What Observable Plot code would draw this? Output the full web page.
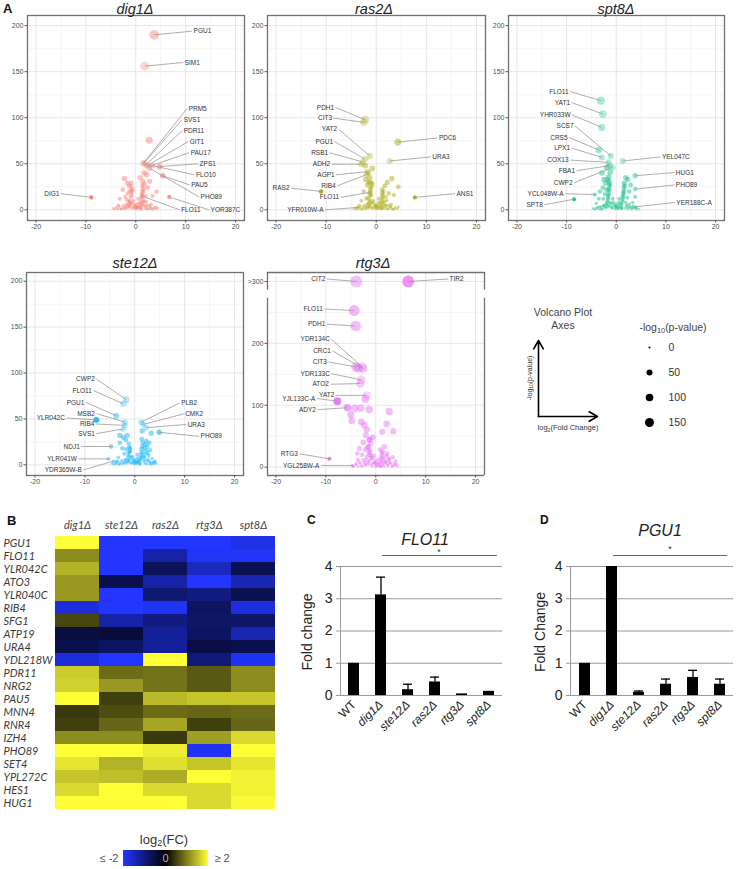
<!DOCTYPE html>
<html><head><meta charset="utf-8">
<script src="https://cdn.jsdelivr.net/npm/d3@7"></script>
<script src="https://cdn.jsdelivr.net/npm/@observablehq/plot@0.6"></script>
<style>
body{margin:0;background:#fff;}
#fig{position:relative;width:736px;height:869px;overflow:hidden;font-family:"Liberation Sans",Arial,sans-serif;color:#222;background:#fff;}
.t{position:absolute;white-space:nowrap;transform:translate(-50%,-50%);line-height:1;}
.l{position:absolute;white-space:nowrap;line-height:1;font-weight:bold;font-size:13px;color:#111;}
sub{font-size:0.7em;vertical-align:-0.25em;line-height:0;}
</style></head><body><div id="fig"></div>
<script>
// ---------------- DATA: volcano plots ----------------
const dig1Cloud = [[-4.2,0.5],[-3.6,1],[-3.1,0.8],[-2.7,2],[-2.3,1],[-2,3.5],[-1.7,1.5],[-1.5,6],[-1.3,3],[-1.2,10],[-1,14],[-0.9,19],[-0.8,24],[-0.9,29],[-1.1,7],[-0.6,2],[-0.4,5],[-0.2,1],[0,2.5],[0.2,1],[0.4,4],[0.6,2],[0.8,6],[1,3],[1,9],[1.1,13],[1.2,17],[1.3,21],[1.3,26],[1.4,31],[1.6,4],[1.9,1.5],[2.2,3],[2.6,1],[3,2],[3.4,1],[3.9,0.8],[4.4,1.5],[-2.1,14],[-2.6,22],[-2.3,34],[-1.7,29],[-3.2,12],[-1.6,18],[2.1,9],[2.4,24],[2.2,38],[2.8,31],[3.4,15],[4.2,20],[1.7,40],[0.5,12],[-0.5,10],[0.9,35],[3.1,6],[-3.5,5],[2.7,75.5],
 [-3.9,2.5],[-3.3,3.5],[-2.9,0.5],[-2.5,4.5],[-2.2,2],[-1.9,6],[-1.6,3.5],[-1.4,9],[-1.2,4.5],[-1,6],[-0.9,2],[-0.7,8],[-0.3,3],[-0.1,6],[0.1,4],[0.3,2],[0.5,7],[0.7,3.5],[0.9,1],[1.1,5],[1.3,8],[1.5,11],[1.2,1.5],[1.4,6],[1.7,9],[2,5],[2.3,1],[2.5,5],[2.9,3.5],[3.2,0.5],[3.7,2.5],[4.1,3],[-4.5,1.5],[-0.8,16],[-1.1,21],[1.4,15],[1.5,19],[1.6,23],[1.7,28],[-0.6,21],[-1.3,26],[1,0.5],[-1.8,11],[2,15]];
const dig1Genes = [
 {g:"PGU1",x:3.7,y:190,lx:11.3,ly:194},{g:"SIM1",x:1.8,y:156,lx:9.5,ly:160},
 {g:"PRM5",x:1.6,y:51,lx:10.3,ly:110},{g:"SVS1",x:1.5,y:50,lx:9.3,ly:98},
 {g:"PDR11",x:2.1,y:49,lx:9.3,ly:86},{g:"GIT1",x:2.3,y:48,lx:10.5,ly:74},
 {g:"PAU17",x:2.6,y:47,lx:10.7,ly:62},{g:"ZPS1",x:4.8,y:47,lx:12.5,ly:50},
 {g:"FLO10",x:3.3,y:48,lx:11.8,ly:38},{g:"PAU5",x:5.4,y:37,lx:10.8,ly:27},
 {g:"PHO89",x:2.8,y:45,lx:12.7,ly:14},{g:"FLO11",x:1.2,y:15,lx:8.8,ly:0},
 {g:"YOR387C",x:6.7,y:14,lx:14.7,ly:0},{g:"DIG1",x:-8.9,y:13.5,lx:-15,ly:17.5}];

const ras2Cloud = [[-4,0.5],[-3.5,1.5],[-3,0.8],[-2.6,2.5],[-2.2,1],[-1.9,4],[-1.6,1.5],[-1.5,7],[-1.3,3],[-1.3,11],[-1.2,15],[-1.1,20],[-1,25],[-1.1,30],[-1.3,35],[-0.7,2],[-0.4,5],[-0.2,1],[0,3],[0.2,1],[0.4,5],[0.6,2],[0.8,7],[1,3],[1,10],[1.1,14],[1.2,18],[1.2,22],[1.4,3],[1.7,1.5],[2,4],[2.4,1],[2.8,2.5],[3.2,1],[3.6,0.8],[4.2,1.2],[-2,12],[-2.5,20],[-1.8,27],[-1.6,40],[-2.1,33],[-3,10],[2.1,10],[2.5,18],[2.2,30],[3.1,34],[3.5,16],[4.4,25],[1.7,26],[0.5,12],[-0.6,10],[-0.8,45],[-2.2,48],[3,6],[-3.4,5],
 [-3.8,2.5],[-3.2,3.5],[-2.8,0.5],[-2.4,4.5],[-2,2],[-1.8,6],[-1.5,3.5],[-1.4,9],[-1.2,5],[-1,7],[-0.9,2],[-0.7,8],[-0.3,3],[-0.1,6],[0.1,4],[0.3,2],[0.5,8],[0.7,3.5],[0.9,1],[1.1,5],[1.2,8],[1.3,12],[1.3,1.5],[1.5,6],[1.6,9],[1.9,5],[2.2,1],[2.5,5],[2.9,3.5],[3.3,0.5],[3.8,2.5],[4.4,3],[-4.4,1.5],[-1,16],[-1.2,23],[1.3,16],[1.4,20],[-0.8,28],[-1.5,30],[1,0.5],[-1.7,13],[1.9,14],[-1.4,18]];
const ras2Genes = [
 {g:"PDH1",x:-2.2,y:98,lx:-8.1,ly:111},{g:"CIT3",x:-2.5,y:95,lx:-8.5,ly:99.5},
 {g:"YAT2",x:-1.3,y:58.5,lx:-7.5,ly:87.5},{g:"PGU1",x:-2.2,y:55,lx:-8.3,ly:74},
 {g:"RSB1",x:-2.7,y:52,lx:-9.3,ly:62},{g:"ADH2",x:-3,y:49.5,lx:-8.9,ly:49.5},
 {g:"AGP1",x:-1.8,y:41.5,lx:-8,ly:38},{g:"RIB4",x:-2,y:38,lx:-7.8,ly:26},
 {g:"FLO11",x:-1.3,y:19,lx:-7.1,ly:13.5},{g:"YFR010W-A",x:-3.7,y:2.5,lx:-10.2,ly:0},
 {g:"RAS2",x:-11,y:20,lx:-17,ly:23.5},{g:"PDC6",x:4.3,y:73.5,lx:12.2,ly:78},
 {g:"URA3",x:2.7,y:53,lx:10.9,ly:57.5},{g:"ANS1",x:7.7,y:13.5,lx:15.7,ly:17.5}];

const spt8Cloud = [[-4.3,0.5],[-3.8,1.5],[-3.3,1],[-3,3],[-2.7,1],[-2.4,5],[-2.1,2],[-1.9,8],[-1.7,3],[-1.6,12],[-1.5,16],[-1.4,21],[-1.3,26],[-1.4,31],[-1.5,36],[-1.2,41],[-2.3,17],[-2.7,24],[-2.5,33],[-3.3,20],[-3.5,12],[-2.9,40],[-0.8,2],[-0.5,5],[-0.2,1],[0,3],[0.3,1],[0.5,5],[0.7,2],[0.9,7],[1.1,3],[1.2,11],[1.3,15],[1.4,19],[1.5,24],[1.6,29],[1.8,2],[2.1,5],[2.4,1],[2.7,3],[3.1,1],[3.5,2],[4,0.8],[4.5,1],[2.2,13],[2.6,20],[2.3,33],[2.9,27],[3.3,8],[1.9,35],[-1.9,46],[-0.7,12],[0.6,12],[-4,7],[3.8,14],
 [-3.9,2.5],[-3.4,3.5],[-3,0.5],[-2.6,4.5],[-2.2,3],[-2,6],[-1.8,10],[-1.6,5],[-1.4,8],[-1.2,4],[-1,7],[-0.9,2],[-0.6,8],[-0.3,3],[-0.1,6],[0.1,4],[0.3,2],[0.5,8],[0.8,3.5],[1,1],[1.1,6],[1.3,9],[1.4,13],[1.5,17],[1.6,21],[1.2,1.5],[1.9,8],[2.2,3],[2.6,6],[3,2.5],[3.4,4],[3.9,2.5],[-4.6,1.5],[-1.7,14],[-1.6,18],[-1.5,23],[-1.4,28],[-2,22],[-2.2,29],[-1.8,33],[1.7,26],[-2.6,12]];
const spt8Genes = [
 {g:"FLO11",x:-3.1,y:118.5,lx:-9.3,ly:128.5},{g:"YAT1",x:-2.7,y:104,lx:-9,ly:116.5},
 {g:"YHR033W",x:-2.9,y:89.5,lx:-8.9,ly:103},{g:"SCS7",x:-1.1,y:58.5,lx:-8.3,ly:91},
 {g:"CRS5",x:-3.5,y:65,lx:-9.5,ly:78.5},{g:"LPX1",x:-2.9,y:57,lx:-9,ly:67},
 {g:"COX13",x:-1.5,y:51.5,lx:-9.3,ly:54},{g:"FBA1",x:-1.3,y:48,lx:-8,ly:42.5},
 {g:"CWP2",x:-0.7,y:46,lx:-8.5,ly:29.5},{g:"YCL048W-A",x:-4.3,y:16.5,lx:-10.3,ly:17.5},
 {g:"SPT8",x:-8.5,y:11.5,lx:-14.5,ly:5.5},{g:"YEL047C",x:1.3,y:53,lx:8.9,ly:57.5},
 {g:"HUG1",x:3.8,y:37,lx:11.7,ly:40.5},{g:"PHO89",x:3.8,y:22.5,lx:11.7,ly:27},
 {g:"YER188C-A",x:4,y:3.3,lx:11.8,ly:8}];

const ste12Cloud = [[-4.2,0.5],[-3.7,1],[-3.2,0.8],[-2.8,2],[-2.4,1],[-2,3.5],[-1.7,1.5],[-1.5,6],[-1.3,3],[-1.1,10],[-1,14],[-0.9,18],[-1.2,23],[-0.6,2],[-0.4,5],[-0.2,1],[0,2.5],[0.2,1],[0.4,4],[0.6,2],[0.8,6],[1,3],[1.1,9],[1.2,13],[1.3,17],[1.5,20],[1.6,24],[1.8,3],[2,8],[2.2,12],[2.4,16],[2.5,20],[2.1,1.5],[2.6,4],[3,1],[3.4,2.5],[3.8,1],[4.3,1.5],[-2.1,12],[-2.5,18],[-3,24],[-1.8,27],[-3.3,8],[2.8,10],[3.1,16],[3.5,7],[1.4,28],[0.5,11],[-0.5,9],[2.9,24],[-2.3,30],[-1.5,32],[4,4],[-3.6,4],[3.3,34.5],[-3,32],[1.5,37],
 [-3.9,2.5],[-3.4,3.5],[-3,0.5],[-2.6,4.5],[-2.2,2],[-1.9,6],[-1.6,3.5],[-1.4,9],[-1.2,4.5],[-1,6],[-0.9,2],[-0.7,8],[-0.3,3],[-0.1,6],[0.1,4],[0.3,2],[0.5,7],[0.7,3.5],[0.9,1],[1.1,5],[1.3,8],[1.5,11],[1.2,1.5],[1.5,6],[1.8,9],[2.1,5],[2.4,1],[2.7,6],[3,3.5],[3.3,0.5],[3.7,2.5],[4.1,3],[-4.5,1.5],[-0.9,15],[-1.1,19],[1.7,14],[1.9,18],[2.1,22],[2.3,26],[-1.3,13],[1,0.5],[2.6,13],[-1.7,17]];
const ste12Genes = [
 {g:"CWP2",x:-1.7,y:71,lx:-7.7,ly:93.5},{g:"FLO11",x:-2.3,y:66.5,lx:-8.3,ly:81},
 {g:"PGU1",x:-3.7,y:53.5,lx:-9.8,ly:68},{g:"MSB2",x:-2,y:46.5,lx:-7.7,ly:56},
 {g:"RIB4",x:-2,y:43,lx:-7.8,ly:44.5},{g:"SVS1",x:-2.3,y:39,lx:-7.7,ly:34},
 {g:"YLR042C",x:-7.7,y:49,lx:-13.7,ly:51},{g:"NDJ1",x:-4.7,y:20,lx:-10.7,ly:20},
 {g:"YLR041W",x:-5.3,y:6.5,lx:-11.3,ly:6.5},{g:"YDR365W-B",x:-4.3,y:4,lx:-10.3,ly:-5.5},
 {g:"PLB2",x:1.3,y:46.5,lx:9,ly:67.5},{g:"CMK2",x:1.7,y:44,lx:9.8,ly:55.5},
 {g:"URA3",x:2.3,y:40.5,lx:10.3,ly:44},{g:"PHO89",x:4.9,y:35.5,lx:12.9,ly:31}];

const rtg3Cloud = [[-4.2,95],[-3,95],[-1.3,93],[-5,85],[-4.8,75],[-2.9,73],[-2.3,68],[-1.8,61],[2.7,90],[2.2,70],[1.3,57],[3.5,58],[-2,52],[-1.3,44],[-1.5,33],[-3.3,30],[-3.7,22],[1.7,33],[2.3,22],[3.4,16],[4,10],[-1,15],[-4.5,1],[-4,3],[-3.5,1],[-3,5],[-2.6,2],[-2.3,8],[-2,3],[-1.8,12],[-1.5,5],[-1.3,20],[-1.1,27],[-1,38],[-0.8,2],[-0.5,7],[-0.2,1],[0,4],[0.3,1],[0.5,6],[0.8,2],[1,10],[1.1,16],[1.2,22],[1.4,4],[1.7,1],[2,6],[2.4,2],[2.8,8],[3.2,1],[3.7,3],[4.3,1],[-2.5,40],[-0.6,48],[-3.6,12],[0.9,28],[2.6,12],[-2.1,110],[-3.5,160],
 [-3.9,6],[-3.3,8],[-2.9,1],[-2.5,12],[-2.1,5],[-1.8,17],[-1.6,8],[-1.4,25],[-1.2,10],[-1,20],[-0.9,4],[-0.7,14],[-0.3,6],[-0.1,10],[0.1,7],[0.3,3],[0.5,12],[0.7,5],[0.9,1],[1.1,8],[1.3,13],[1.5,18],[1.2,2],[1.6,7],[1.8,12],[2.1,9],[2.4,4],[2.7,14],[3,6],[3.4,2],[3.8,6],[4.2,4],[-4.6,2],[-1.6,32],[-1.2,45],[-2.1,28],[1.4,25],[-2.7,20],[1,0.5],[2.2,18],[-0.4,18]];
const rtg3Genes = [
 {g:"CIT2",x:-3.9,y:300,lx:-9.8,ly:304},{g:"TIR2",x:6.5,y:300,lx:14.5,ly:304},
 {g:"FLO11",x:-4.3,y:253,lx:-10.3,ly:255.5},{g:"PDH1",x:-4,y:228,lx:-9.8,ly:231},
 {g:"YDR134C",x:-2.7,y:162,lx:-8.9,ly:206.5},{g:"CRC1",x:-2.5,y:159,lx:-8.7,ly:188},
 {g:"CIT3",x:-4,y:162,lx:-9.5,ly:170},{g:"YDR133C",x:-2.9,y:141,lx:-8.9,ly:151},
 {g:"ATO2",x:-3.1,y:135,lx:-9.1,ly:134},{g:"YAT2",x:-1.8,y:116,lx:-8,ly:116},
 {g:"YJL133C-A",x:-7.7,y:106.5,lx:-11.8,ly:111},{g:"ADY2",x:-5.7,y:96,lx:-11.7,ly:93},
 {g:"RTG3",x:-9.3,y:13.5,lx:-15.3,ly:21.5},{g:"YGL258W-A",x:-4.7,y:2.7,lx:-11,ly:2.7}];

const pLegend = [0, 50, 100, 150];
const axArrows = [{x1:0,y1:0,x2:0,y2:1},{x1:0,y1:0,x2:1,y2:0}];

// ---------------- DATA: heatmap ----------------
const heatGenes = ["PGU1","FLO11","YLR042C","ATO3","YLR040C","RIB4","SFG1","ATP19","URA4","YDL218W","PDR11","NRG2","PAU5","MNN4","RNR4","IZH4","PHO89","SET4","YPL272C","HES1","HUG1"];
const heatStrains = ["dig1Δ","ste12Δ","ras2Δ","rtg3Δ","spt8Δ"];
const fcDig1  = [2.0, 1.1, 1.4, 1.2, 1.2,-1.7, 0.55,-0.5,-0.6,-1.7, 1.6, 1.65, 2.0, 0.45, 0.5, 1.1, 2.0, 1.8, 1.55, 1.7, 2.0];
const fcSte12 = [-2.0,-2.0,-2.0,-0.6,-2.0,-2.0,-1.3,-0.45,-0.75,-2.0, 0.85, 1.2, 0.5, 0.6, 0.8, 1.1, 2.0, 1.4, 1.5, 2.0, 2.0];
const fcRas2  = [-2.0,-1.3,-0.7,-1.3,-0.9,-1.9,-1.0,-1.2,-1.2, 2.0, 0.9, 0.9, 1.45, 0.85, 1.3, 0.45, 1.85, 1.75, 1.35, 1.7, 2.0];
const fcRtg3  = [-2.0,-1.95,-1.5,-2.0,-1.0,-0.75,-0.8,-0.75,-0.55,-0.95, 0.7, 0.7, 1.55, 0.8, 0.5, 1.25,-1.9, 1.55, 2.0, 1.7, 1.7];
const fcSpt8  = [-1.8,-1.95,-0.65,-1.4,-0.65,-1.75,-0.8,-1.4,-0.6,-1.9, 1.1, 1.1, 1.55, 0.85, 0.8, 1.7, 2.0, 1.8, 1.9, 1.9, 1.95];

// ---------------- DATA: qPCR bars ----------------
const barStrains = ["WT","dig1Δ","ste12Δ","ras2Δ","rtg3Δ","spt8Δ"];
const flo11Mean = [1.0, 3.12, 0.18, 0.42, 0.05, 0.13];
const flo11Err  = [0, 0.55, 0.17, 0.15, 0, 0];
const pgu1Mean  = [1.0, 4.0, 0.1, 0.35, 0.56, 0.35];
const pgu1Err   = [0, 0, 0.04, 0.16, 0.22, 0.16];

// ---------------- helpers ----------------
const fig = document.getElementById("fig");
const FONT = "Liberation Sans, Arial, sans-serif";
function place(node, left, top) {
  node.style.position = "absolute"; node.style.left = left + "px"; node.style.top = top + "px";
  fig.appendChild(node);
}
function txt(html, x, y, css) {
  const d = document.createElement("div");
  d.className = "t"; d.innerHTML = html; d.style.left = x + "px"; d.style.top = y + "px";
  d.style.cssText += css || ""; fig.appendChild(d); return d;
}
function letter(ch, x, y, size) {
  const d = document.createElement("div");
  d.className = "l"; d.textContent = ch; d.style.left = x + "px"; d.style.top = y + "px";
  if (size) d.style.fontSize = size + "px"; fig.appendChild(d);
}
const rScale = {type: "sqrt", domain: [0, 200], range: [1, 5]};
const VX = [-21.7, 21.8];

function volcano(c) {
  const xMajor = [-20, -10, 0, 10, 20], xMinor = [-15, -5, 5, 15];
  const op = d => Math.min(0.9, Math.max(0.3, Math.abs(d.x) / 9));
  const fr = {stroke: "#707070", strokeWidth: 1.3};
  const frame = c.gap ? [
    Plot.ruleX(VX, {y1: c.yDomain[0], y2: c.gap[0], ...fr}),
    Plot.ruleX(VX, {y1: c.gap[1], y2: c.yDomain[1], ...fr}),
    Plot.ruleY(c.yDomain, fr)
  ] : [Plot.frame(fr)];
  const tx = {fontSize: 6.5, fill: "#333", fontFamily: FONT};
  return Plot.plot({
    width: c.w, height: c.h, marginLeft: c.ml, marginRight: c.mr, marginTop: c.mt, marginBottom: c.mb,
    x: {domain: VX}, y: {domain: c.yDomain}, r: rScale,
    style: {fontFamily: FONT, background: "transparent", overflow: "visible"},
    marks: [
      Plot.ruleX(xMinor, {stroke: "#f1f1f1", strokeWidth: 0.7}),
      Plot.ruleY(c.yMinor, {stroke: "#f1f1f1", strokeWidth: 0.7}),
      Plot.ruleX(xMajor, {stroke: "#e4e4e4", strokeWidth: 0.9}),
      Plot.ruleY(c.yMajor, {stroke: "#e4e4e4", strokeWidth: 0.9}),
      Plot.dot(c.cloud, {x: d => d[0], y: d => d[1], r: d => d[1], fill: c.color, fillOpacity: 0.45}),
      Plot.dot(c.genes, {x: "x", y: "y", r: "y", fill: c.color, fillOpacity: op}),
      Plot.link(c.genes, {x1: "x", y1: "y", x2: "lx", y2: "ly", stroke: "#9a9a9a", strokeWidth: 0.8}),
      Plot.text(c.genes, {filter: d => d.lx < d.x, x: "lx", y: "ly", text: "g", textAnchor: "end", dx: -1.5, ...tx}),
      Plot.text(c.genes, {filter: d => d.lx >= d.x, x: "lx", y: "ly", text: "g", textAnchor: "start", dx: 1.5, ...tx}),
      ...frame,
      Plot.axisX(xMajor, {tickFormat: d => String(d), tickSize: 2.5, tickPadding: 1.5, fontSize: 7, fill: "#4d4d4d", stroke: "#555"}),
      Plot.axisY(c.yMajor, {tickFormat: c.yFmt || (d => String(d)), tickSize: 2.5, tickPadding: 1.5, fontSize: 7, fill: "#4d4d4d", stroke: "#555"})
    ]
  });
}

// ---------------- Panel A ----------------
letter("A", 3, 2, 13);
const Y1 = [0, 50, 100, 150, 200], Y1m = [25, 75, 125, 175];
place(volcano({cloud: dig1Cloud, genes: dig1Genes, color: "#F8766D", yDomain: [-11.6, 211], yMajor: Y1, yMinor: Y1m, w: 250, h: 240, ml: 27, mr: 6, mt: 15, mb: 20}), 0, 0);
place(volcano({cloud: ras2Cloud, genes: ras2Genes, color: "#A3A500", yDomain: [-11.6, 211], yMajor: Y1, yMinor: Y1m, w: 250, h: 240, ml: 27, mr: 5, mt: 15, mb: 20}), 240, 0);
place(volcano({cloud: spt8Cloud, genes: spt8Genes, color: "#00BF7D", yDomain: [-11.6, 211], yMajor: Y1, yMinor: Y1m, w: 250, h: 240, ml: 27, mr: 7, mt: 15, mb: 20}), 481, 0);
place(volcano({cloud: ste12Cloud, genes: ste12Genes, color: "#00B0F6", yDomain: [-11.6, 209.5], yMajor: Y1, yMinor: Y1m, w: 250, h: 255, ml: 26, mr: 7, mt: 32, mb: 20}), 0, 240);
place(volcano({cloud: rtg3Cloud, genes: rtg3Genes, color: "#E76BF3", yDomain: [-13.5, 314.5], yMajor: [0, 100, 200, 300], yMinor: [50, 150, 250], gap: [273, 286], yFmt: d => d === 300 ? ">300" : String(d), w: 250, h: 255, ml: 27, mr: 6, mt: 32, mb: 20}), 240, 240);

const titleCss = "font-style:italic;font-size:14.5px;color:#222;";
txt("dig1Δ", 135, 9, titleCss);
txt("ras2Δ", 374, 9, titleCss);
txt("spt8Δ", 616, 9, titleCss);
txt("ste12Δ", 135, 263, titleCss);
txt("rtg3Δ", 373, 263, titleCss);

// Volcano axes schematic
txt("Volcano Plot", 563, 312, "font-size:10.5px;color:#444;");
txt("Axes", 563, 325, "font-size:10.5px;color:#444;");
place(Plot.plot({
  width: 100, height: 100, marginLeft: 28, marginRight: 13, marginTop: 10, marginBottom: 14,
  x: {domain: [0, 1], axis: null}, y: {domain: [0, 1], axis: null},
  style: {background: "transparent", overflow: "visible"},
  marks: [Plot.arrow(axArrows, {x1: "x1", y1: "y1", x2: "x2", y2: "y2", stroke: "#000", strokeWidth: 1.6, headLength: 9})]
}), 510, 330);
txt("-log<sub>10</sub>(p-value)", 529, 378, "font-size:7px;color:#333;transform:translate(-50%,-50%) rotate(-90deg);");
txt("log<sub>2</sub>(Fold Change)", 568, 428, "font-size:7.5px;color:#333;");

// size legend
txt("-log<sub>10</sub>(p-value)", 673, 327, "font-size:10.5px;color:#444;");
place(Plot.plot({
  width: 100, height: 100, marginLeft: 29, marginRight: 10, marginTop: 11, marginBottom: 12,
  y: {type: "point", domain: pLegend, padding: 0, axis: null}, r: rScale,
  style: {fontFamily: FONT, background: "transparent", overflow: "visible"},
  marks: [
    Plot.dot(pLegend, {y: d => d, r: d => d, frameAnchor: "left", fill: "#000"}),
    Plot.text(pLegend, {y: d => d, text: d => String(d), frameAnchor: "left", dx: 19, textAnchor: "start", fontSize: 10.5, fill: "#333"})
  ]
}), 620, 335);

// ---------------- Panel B: heatmap ----------------
letter("B", 7, 514, 13);
const heatValues = [fcDig1, fcSte12, fcRas2, fcRtg3, fcSpt8];
const heatTable = heatStrains.flatMap((s, i) => heatGenes.map((g, j) => ({strain: s, gene: g, fc: heatValues[i][j]})));
const HFONT = "Lato, 'Open Sans', sans-serif";
place(Plot.plot({
  width: 285, height: 310, marginLeft: 53, marginRight: 8, marginTop: 28, marginBottom: 4,
  x: {domain: heatStrains, padding: 0}, y: {domain: heatGenes, padding: 0, axis: null},
  color: {type: "linear", domain: [-2, 0, 2], range: ["#2236ff", "#000000", "#ffff38"], interpolate: "rgb", clamp: true},
  style: {fontFamily: HFONT, background: "transparent", overflow: "visible"},
  marks: [
    Plot.cell(heatTable, {x: "strain", y: "gene", fill: "fc", inset: 0, shapeRendering: "crispEdges"}),
    Plot.axisX({anchor: "top", tickSize: 0, tickPadding: 5, fontSize: 11, fontStyle: "italic", fill: "#444", fontFamily: HFONT, label: null}),
    Plot.text(heatGenes, {y: d => d, frameAnchor: "left", dx: -50, textAnchor: "start", fontSize: 11, fontStyle: "italic", fill: "#3a3a3a", fontFamily: HFONT})
  ]
}), 0, 505);
txt("log<sub>2</sub>(FC)", 164, 839, "font-size:13px;color:#333;");
const cb = document.createElement("div");
cb.style.cssText = "width:85px;height:16px;background:linear-gradient(to right,#2236ff,#000 50%,#ffff38);";
place(cb, 123, 850);
txt("≤ -2", 109, 858, "font-size:11px;color:#555;");
txt("≥ 2", 222, 858, "font-size:11px;color:#555;");
txt("0", 165.5, 858, "font-size:11px;color:#bbb;");

// ---------------- Panels C & D ----------------
function bars(means, errs, w, ml, mr) {
  const data = barStrains.map((s, i) => ({s, m: means[i], e: errs[i]}));
  const withErr = data.filter(d => d.e > 0);
  const ax = {tickSize: 0, tickPadding: 7, tickRotate: -45, fontSize: 12, fill: "#222", label: null};
  return Plot.plot({
    width: w, height: 210, marginLeft: ml, marginRight: mr, marginTop: 26, marginBottom: 55,
    x: {domain: barStrains, paddingInner: 0.6, paddingOuter: 0.3, label: null},
    y: {domain: [0, 4], label: null},
    style: {fontFamily: FONT, background: "transparent", overflow: "visible"},
    marks: [
      Plot.gridY([1, 2, 3, 4], {stroke: "#9a9a9a", strokeOpacity: 1}),
      Plot.ruleY([0], {stroke: "#9a9a9a"}),
      Plot.frame({anchor: "left", stroke: "#9a9a9a"}),
      Plot.barY(data, {x: "s", y: "m", fill: "#000"}),
      Plot.ruleX(withErr, {x: "s", y1: "m", y2: d => d.m + d.e, stroke: "#000", strokeWidth: 1.3}),
      Plot.tickY(withErr, {x: "s", y: d => d.m + d.e, stroke: "#000", strokeWidth: 1.3, insetLeft: 1, insetRight: 1}),
      Plot.axisY([0, 1, 2, 3, 4], {tickSize: 4, tickPadding: 4, fontSize: 14, fill: "#222", stroke: "#9a9a9a", label: null}),
      Plot.axisX(["WT"], ax),
      Plot.axisX(barStrains.slice(1), {...ax, fontStyle: "italic"})
    ]
  });
}
letter("C", 307, 514, 12);
place(bars(flo11Mean, flo11Err, 230, 60, 8), 280, 540);
txt("FLO11", 425, 540, "font-style:italic;font-size:16px;color:#222;");
const lc = document.createElement("div"); lc.style.cssText = "width:115px;height:0;border-top:1.3px solid #666;"; place(lc, 382, 555);
txt("*", 439, 552, "font-size:9px;color:#333;");
txt("Fold change", 307, 632, "font-size:14px;color:#222;transform:translate(-50%,-50%) rotate(-90deg);");

letter("D", 540, 514, 12);
place(bars(pgu1Mean, pgu1Err, 236, 70, 3), 500, 540);
txt("PGU1", 660, 531, "font-style:italic;font-size:16px;color:#222;");
const ld = document.createElement("div"); ld.style.cssText = "width:114px;height:0;border-top:1.3px solid #666;"; place(ld, 613, 555);
txt("*", 670, 549, "font-size:9px;color:#333;");
txt("Fold Change", 540, 632, "font-size:14px;color:#222;transform:translate(-50%,-50%) rotate(-90deg);");
</script></body></html>
